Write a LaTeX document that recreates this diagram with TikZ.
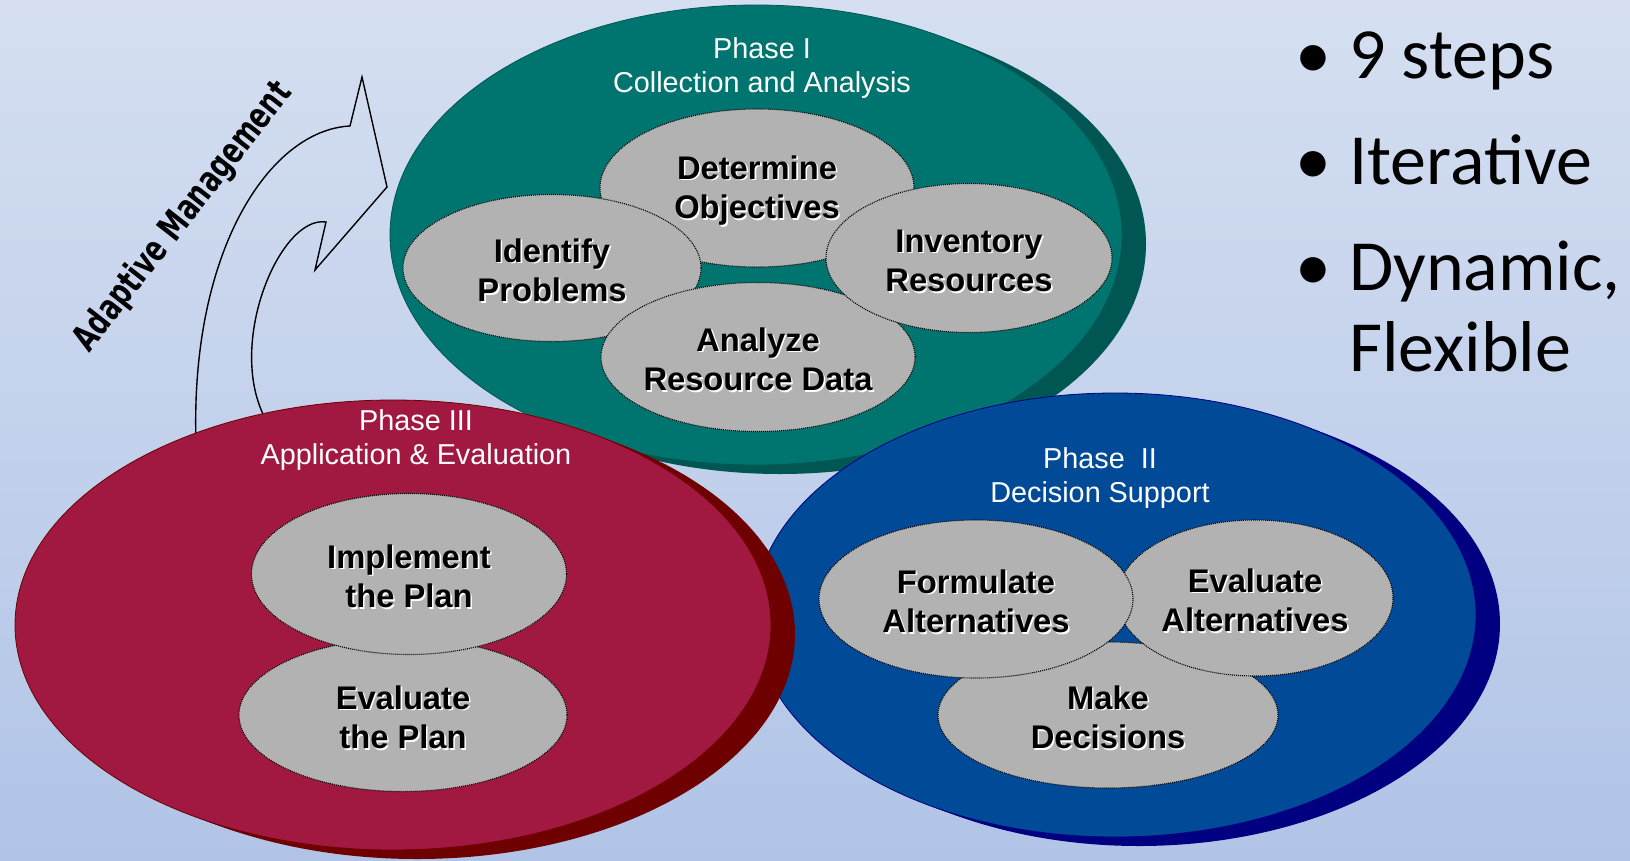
\documentclass[tikz,border=0pt]{standalone}
\usepackage{fontspec}
\setmainfont{Liberation Sans}
\newfontfamily\bulletfont{Carlito}
\newfontfamily\amfont[FakeStretch=0.72]{DejaVu Sans}
\usepackage{tikz}
\usetikzlibrary{shapes.geometric,positioning}

\definecolor{bgtop}{RGB}{213,223,241}
\definecolor{bgbot}{RGB}{177,196,231}
\definecolor{tealface}{RGB}{0,117,112}
\definecolor{tealrim}{RGB}{0,86,82}
\definecolor{blueface}{RGB}{0,74,152}
\definecolor{bluerim}{RGB}{0,0,128}
\definecolor{redface}{RGB}{161,25,65}
\definecolor{redrim}{RGB}{110,0,0}
\definecolor{stepgray}{RGB}{178,178,178}

% black text with a white offset shadow
\newcommand{\shd}[1]{\makebox[0pt][l]{\hspace{1.6pt}\raisebox{-1.6pt}{\color{white}#1}}#1}
\newcommand{\shdtop}[1]{\rule{0pt}{30pt}\shd{#1}}
\newcommand{\bul}{\llap{\makebox[72pt]{•}}}

\tikzset{
  phase/.style={ellipse, inner sep=0pt, line width=0.8pt},
  phaselabel/.style={text=white, align=center, inner sep=0pt,
    font=\fontsize{28.8}{34.5}\selectfont},
  stepbox/.style={ellipse, fill=stepgray, draw=black, line width=1.1pt,
    dash pattern=on 1pt off 1pt, inner sep=0pt, align=center,
    font=\fontsize{32.7}{39.5}\selectfont\bfseries},
  bulletitem/.style={anchor=base west, inner sep=0pt, align=left,
    font=\bulletfont\fontsize{72}{81}\selectfont},
  amarrow/.style={draw=black, line width=1.4pt, line join=miter}
}

\begin{document}
\begin{tikzpicture}[x=1pt, y=-1pt]
        \useasboundingbox (0,0) rectangle (1630,860);
        \shade[top color=bgtop, bottom color=bgbot] (0,0) rectangle (1630,860);

        % adaptive management arrow
        \draw[amarrow] (196,442) .. controls (190,250) and (270,130) .. (350,126)
          -- (362,77) -- (387,187) -- (315,270) -- (326,222)
          .. controls (280,215) and (225,345) .. (266,420) -- cycle;
        \node[font=\amfont\bfseries\fontsize{36}{36}\selectfont, anchor=base,
          rotate=52, inner sep=0pt] (AM) at (191,223) {Adaptive Management};

        % phase I
        \foreach \d in {6,12,18,24}
          \fill[tealrim] (756+\d,235+0.375*\d) ellipse [x radius=366pt, y radius=230pt];
        \node[phase, fill=tealface, draw=tealrim, minimum width=732pt, minimum height=460pt] (P1) at (756,235) {};
        \node[phaselabel] (L1) at (762,68) {Phase I\\Collection and Analysis};

        \node[stepbox, minimum width=314pt, minimum height=158pt] (Obj) at (757,188) {\shdtop{Determine}\\\shd{Objectives}};
        \node[stepbox, minimum width=298pt, minimum height=147pt] (Prob) at (552,268) {\shdtop{Identify}\\\shd{Problems}};
        \node[stepbox, minimum width=314pt, minimum height=149pt, inner xsep=-6pt] (Data) at (758,357) {\shdtop{Analyze}\\\shd{Resource Data}};
        \node[stepbox, minimum width=286pt, minimum height=149pt] (Inv) at (969,258) {\shdtop{Inventory}\\\shd{Resources}};

        % phase II
        \foreach \d in {6,12,18,24}
          \fill[bluerim] (1115+\d,615+0.375*\d) ellipse [x radius=361pt, y radius=222pt];
        \node[phase, fill=blueface, draw=bluerim, minimum width=722pt, minimum height=444pt] (P2) at (1115,615) {};
        \node[phaselabel] (L2) at (1100,478) {Phase\ \ II\\Decision Support};

        \node[stepbox, minimum width=340pt, minimum height=146pt] (Dec) at (1108,715) {\shdtop{Make}\\\shd{Decisions}};
        \node[stepbox, minimum width=276pt, minimum height=156pt] (EvAlt) at (1255,598) {\shdtop{Evaluate}\\\shd{Alternatives}};
        \node[stepbox, minimum width=314pt, minimum height=158pt] (Form) at (976,599) {\shdtop{Formulate}\\\shd{Alternatives}};

        % phase III
        \foreach \d in {6,12,18,24}
          \fill[redrim] (393+\d,625+0.375*\d) ellipse [x radius=378pt, y radius=225pt];
        \node[phase, fill=redface, draw=redrim, minimum width=756pt, minimum height=450pt] (P3) at (393,625) {};
        \node[phaselabel] (L3) at (416,440) {Phase III\\Application \& Evaluation};

        \node[stepbox, minimum width=328pt, minimum height=153pt] (EvPlan) at (403,715) {\shdtop{Evaluate}\\\shd{the Plan}};
        \node[stepbox, minimum width=315pt, minimum height=161pt] (Impl) at (409,574) {\shdtop{Implement}\\\shd{the Plan}};

        % bullets
        \node[bulletitem] (B1) at (1349,78) {\bul 9 steps};
        \node[bulletitem] (B2) at (1349,184) {\bul Iterative};
        \node[bulletitem] (B3) at (1349,371) {\bul Dynamic,\\Flexible};
\end{tikzpicture}
\end{document}
